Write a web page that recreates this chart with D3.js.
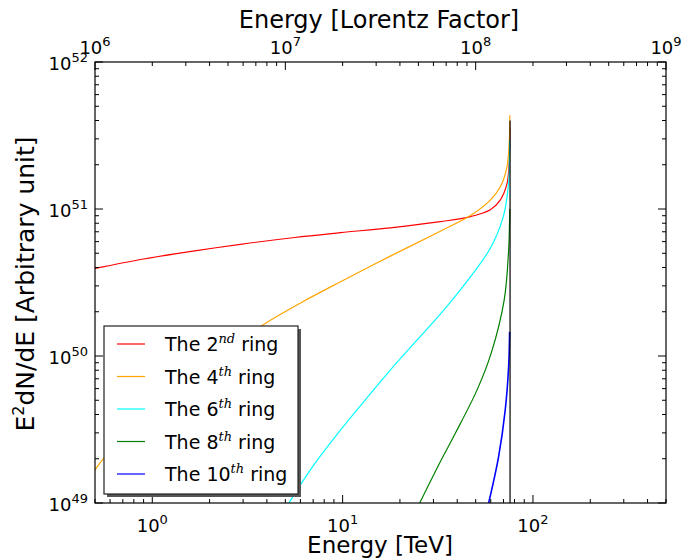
<!DOCTYPE html>
<html>
<head>
<meta charset="utf-8">
<script src="https://cdn.jsdelivr.net/npm/d3@7"></script>
<style>
  body { margin: 0; background: #fff; }
  text { font-family: "DejaVu Sans", sans-serif; fill: #000; }
</style>
</head>
<body>
<svg width="684" height="560"></svg>
<script>
/**********************
 Data
**********************/
// energy in TeV, E^2 dN/dE in arbitrary units
var ring2E  = [0.5, 0.9, 1.67, 2.9, 5.6, 9.75, 17.8, 32.6, 46.9, 59.7, 67.3, 73.0, 75.1, 75.6];
var ring2F  = [3.94e50, 4.57e50, 5.19e50, 5.75e50, 6.40e50, 6.90e50, 7.45e50, 8.20e50, 8.87e50, 9.89e50, 1.15e51, 1.48e51, 2.14e51, 3.55e51];

var ring4E  = [0.5, 0.557, 1.0, 2.0, 3.79, 6.14, 9.75, 17.8, 32.6, 46.9, 59.7, 67.3, 73.0, 75.1, 75.6];
var ring4F  = [1.68e49, 2.02e49, 4.37e49, 9.12e49, 1.62e50, 2.33e50, 3.20e50, 4.78e50, 7.06e50, 9.02e50, 1.15e51, 1.41e51, 1.93e51, 2.93e51, 4.34e51];

var ring6E  = [5.22, 7.0, 9.75, 13.0, 17.8, 32.6, 39.1, 59.7, 69.8, 74.5, 75.3, 75.6];
var ring6F  = [1.0e49, 1.79e49, 3.14e49, 4.94e49, 8.02e49, 1.93e50, 2.55e50, 5.41e50, 8.83e50, 1.50e51, 2.25e51, 2.95e51];

var ring8E  = [25.4, 32.6, 39.1, 50.8, 60.4, 70.6, 74.5, 75.3, 75.6];
var ring8F  = [1.0e49, 1.91e49, 2.98e49, 5.86e49, 1.05e50, 2.40e50, 5.24e50, 7.94e50, 1.0e51];

var ring10E = [58.5, 66.0, 71.5, 74.5, 75.4];
var ring10F = [1.0e49, 2.07e49, 4.29e49, 8.45e49, 1.46e50];

// vertical cut-off line
var cutoffE = [75.8, 75.8];
var cutoffF = [1.0e49, 4.0e51];

var ringLabels = ['2', '4', '6', '8', '10'];
var ringSups   = ['nd', 'th', 'th', 'th', 'th'];
var ringColors = ['red', 'orange', 'cyan', 'green', 'blue'];

var xTicksTeV     = [1, 10, 100];
var xTicksLorentz = [1e6, 1e7, 1e8, 1e9];
var yTicks        = [1e49, 1e50, 1e51, 1e52];


/**********************
 Layout
**********************/
var svg = d3.select('svg');
var plot = {l: 95, r: 666, t: 62, b: 503};

var xScale = d3.scaleLog().domain([0.5, 500]).range([plot.l, plot.r]);
var xTopScale = d3.scaleLog().domain([1e6, 1e9]).range([plot.l, plot.r]);
var yScale = d3.scaleLog().domain([1e49, 1e52]).range([plot.b, plot.t]);

// minor tick values for a log scale between lo and hi
function minorTicks(lo, hi) {
    var out = [];
    for (var p = Math.floor(Math.log10(lo)); p <= Math.ceil(Math.log10(hi)); p++) {
        for (var m = 2; m <= 9; m++) {
            var v = m * Math.pow(10, p);
            if (v >= lo * 0.999 && v <= hi * 1.001) out.push(v);
        }
    }
    return out;
}

// power-of-ten label "10^n"
function powLabel(sel, v) {
    var n = Math.round(Math.log10(v));
    sel.append('tspan').text('10');
    sel.append('tspan')
        .attr('dy', -8)
        .style('font-size', '13px')
        .text(n);
}

/**********************
 Curves
**********************/
var lineGen = d3.line()
    .x(function(d) { return xScale(d[0]); })
    .y(function(d) { return yScale(d[1]); })
    .curve(d3.curveCatmullRom.alpha(0.5));

var series = [
    [ring2E, ring2F],
    [ring4E, ring4F],
    [ring6E, ring6F],
    [ring8E, ring8F],
    [ring10E, ring10F]
];

svg.append('clipPath').attr('id', 'clip')
  .append('rect')
    .attr('x', plot.l).attr('y', plot.t)
    .attr('width', plot.r - plot.l).attr('height', plot.b - plot.t);

var curveG = svg.append('g').attr('clip-path', 'url(#clip)');

series.forEach(function(s, i) {
    var pts = s[0].map(function(e, j) { return [e, s[1][j]]; });
    curveG.append('path')
        .attr('d', lineGen(pts))
        .attr('fill', 'none')
        .attr('stroke', ringColors[i])
        .attr('stroke-width', i === 4 ? 1.6 : 1.2);
});

curveG.append('path')
    .attr('d', d3.line()
        .x(function(d, j) { return xScale(cutoffE[j]); })
        .y(function(d) { return yScale(d); })(cutoffF))
    .attr('fill', 'none')
    .attr('stroke', 'black')
    .attr('stroke-width', 1.2);

/**********************
 Frame and ticks
**********************/
svg.append('rect')
    .attr('x', plot.l).attr('y', plot.t)
    .attr('width', plot.r - plot.l).attr('height', plot.b - plot.t)
    .attr('fill', 'none').attr('stroke', 'black').attr('stroke-width', 1.2);

var tickG = svg.append('g').attr('stroke', 'black').attr('stroke-width', 1);

function xTick(x, len, atTop) {
    var y0 = atTop ? plot.t : plot.b;
    tickG.append('line')
        .attr('x1', x).attr('x2', x)
        .attr('y1', y0).attr('y2', atTop ? y0 + len : y0 - len);
}
function yTick(y, len) {
    tickG.append('line').attr('x1', plot.l).attr('x2', plot.l + len).attr('y1', y).attr('y2', y);
    tickG.append('line').attr('x1', plot.r).attr('x2', plot.r - len).attr('y1', y).attr('y2', y);
}

xTicksTeV.forEach(function(v) { xTick(xScale(v), 8, false); });
minorTicks(0.5, 500).forEach(function(v) { xTick(xScale(v), 4, false); });
xTicksLorentz.forEach(function(v) { xTick(xTopScale(v), 8, true); });
minorTicks(1e6, 1e9).forEach(function(v) { xTick(xTopScale(v), 4, true); });
yTicks.forEach(function(v) { yTick(yScale(v), 8); });
minorTicks(1e49, 1e52).forEach(function(v) { yTick(yScale(v), 4); });

// tick labels
xTicksTeV.forEach(function(v) {
    var t = svg.append('text')
        .attr('x', xScale(v)).attr('y', 532)
        .attr('text-anchor', 'middle')
        .style('font-size', '18px');
    powLabel(t, v);
});
xTicksLorentz.forEach(function(v) {
    var t = svg.append('text')
        .attr('x', xTopScale(v)).attr('y', 54)
        .attr('text-anchor', 'middle')
        .style('font-size', '18px');
    powLabel(t, v);
});
yTicks.forEach(function(v) {
    var t = svg.append('text')
        .attr('x', 88).attr('y', yScale(v) + 8)
        .attr('text-anchor', 'end')
        .style('font-size', '18px');
    powLabel(t, v);
});

/**********************
 Axis labels
**********************/
svg.append('text')
    .attr('x', 380).attr('y', 553)
    .attr('text-anchor', 'middle')
    .style('font-size', '23px')
    .text('Energy [TeV]');

svg.append('text')
    .attr('x', 379).attr('y', 28)
    .attr('text-anchor', 'middle')
    .style('font-size', '24px')
    .text('Energy [Lorentz Factor]');

var yLab = svg.append('text')
    .attr('transform', 'translate(34,284) rotate(-90)')
    .attr('text-anchor', 'middle')
    .style('font-size', '25px');
yLab.append('tspan').text('E');
yLab.append('tspan').attr('dy', -10).style('font-size', '16px').text('2');
yLab.append('tspan').attr('dy', 10).text('dN/dE [Arbitrary unit]');

/**********************
 Legend
**********************/
var leg = {x: 104, y: 326, w: 194, h: 168};
svg.append('rect')
    .attr('x', leg.x + 3).attr('y', leg.y + 3)
    .attr('width', leg.w).attr('height', leg.h)
    .attr('fill', '#555');
svg.append('rect')
    .attr('x', leg.x).attr('y', leg.y)
    .attr('width', leg.w).attr('height', leg.h)
    .attr('fill', '#fff').attr('stroke', '#222').attr('stroke-width', 1.2);

ringLabels.forEach(function(lab, i) {
    var cy = 344 + i * 32.5;
    svg.append('line')
        .attr('x1', 117).attr('x2', 145)
        .attr('y1', cy).attr('y2', cy)
        .attr('stroke', ringColors[i]).attr('stroke-width', 1.2);
    var t = svg.append('text')
        .attr('x', 165).attr('y', cy + 7)
        .style('font-size', '19px');
    t.append('tspan').text('The ' + lab);
    t.append('tspan')
        .attr('dy', -8)
        .style('font-family', '"DejaVu Serif", serif')
        .style('font-style', 'italic')
        .style('font-size', '13px')
        .text(ringSups[i]);
    t.append('tspan').attr('dy', 8).text(' ring');
});
</script>
</body>
</html>
